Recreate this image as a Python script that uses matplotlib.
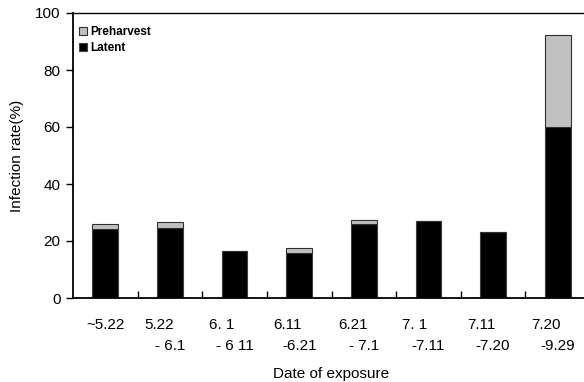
import matplotlib
matplotlib.use("Agg")
import matplotlib.pyplot as plt
import numpy as np

plt.rcParams['font.family'] = ['Liberation Sans', 'DejaVu Sans']

line1 = ["~5.22", "5.22", "6. 1", "6.11", "6.21", "7. 1", "7.11", "7.20"]
line2 = ["", "- 6.1", "- 6 11", "-6.21", "- 7.1", "-7.11", "-7.20", "-9.29"]
latent = [24.2, 24.7, 16.6, 15.9, 25.9, 27.1, 23.3, 60.0]
total = [26.0, 26.6, 16.6, 17.4, 27.4, 27.1, 23.3, 92.3]
preharvest = [t - l for t, l in zip(total, latent)]

fig = plt.figure(figsize=(5.84, 3.82), dpi=100)
ax = fig.add_axes([73/584, 84/382, 517/584, 285/382])

x = np.arange(len(latent))
ax.bar(x, latent, width=0.4, color='black', edgecolor='#404040', linewidth=0.8, label='Latent', zorder=2)
ax.bar(x, preharvest, width=0.4, bottom=latent, color='#c0c0c0', edgecolor='#303030', linewidth=0.8,
       label='Preharvest', zorder=2)

ax.set_xlim(-0.5, len(latent) - 0.5)
ax.set_ylim(0, 100)
ax.set_yticks([0, 20, 40, 60, 80, 100])
ax.tick_params(axis='y', direction='out', length=5, width=1, labelsize=11, pad=4)

# boundary ticks on x-axis (inward), no labels
ax.set_xticks(np.arange(0.5, len(latent) - 0.5, 1.0))
ax.set_xticklabels([])
ax.tick_params(axis='x', direction='in', length=5, width=1)

for i, (a, b) in enumerate(zip(line1, line2)):
    if b:
        ax.annotate(a, xy=(i, 0), xycoords=('data', 'axes fraction'), xytext=(-26, -27),
                    textcoords='offset pixels', ha='left', va='center', fontsize=11)
        ax.annotate(b, xy=(i, 0), xycoords=('data', 'axes fraction'), xytext=(0, -48),
                    textcoords='offset pixels', ha='center', va='center', fontsize=11)
    else:
        ax.annotate(a, xy=(i, 0), xycoords=('data', 'axes fraction'), xytext=(0, -27),
                    textcoords='offset pixels', ha='center', va='center', fontsize=11)

ax.set_ylabel('Infection rate(%)', fontsize=11, labelpad=8)
ax.set_xlabel('Date of exposure', fontsize=11, labelpad=46)

for s in ['left', 'bottom']:
    ax.spines[s].set_linewidth(1.3)
ax.spines['top'].set_linewidth(1.0)
ax.spines['right'].set_visible(False)

h, l = ax.get_legend_handles_labels()
ax.legend(h[::-1], l[::-1], loc='upper left', bbox_to_anchor=(0.0, 0.975), frameon=False,
          prop={'weight': 'bold', 'size': 8.5},
          handlelength=0.7, handleheight=0.7, handletextpad=0.3, labelspacing=0.35,
          borderaxespad=0.3, borderpad=0.2)

fig.savefig('out.png', dpi=100)
